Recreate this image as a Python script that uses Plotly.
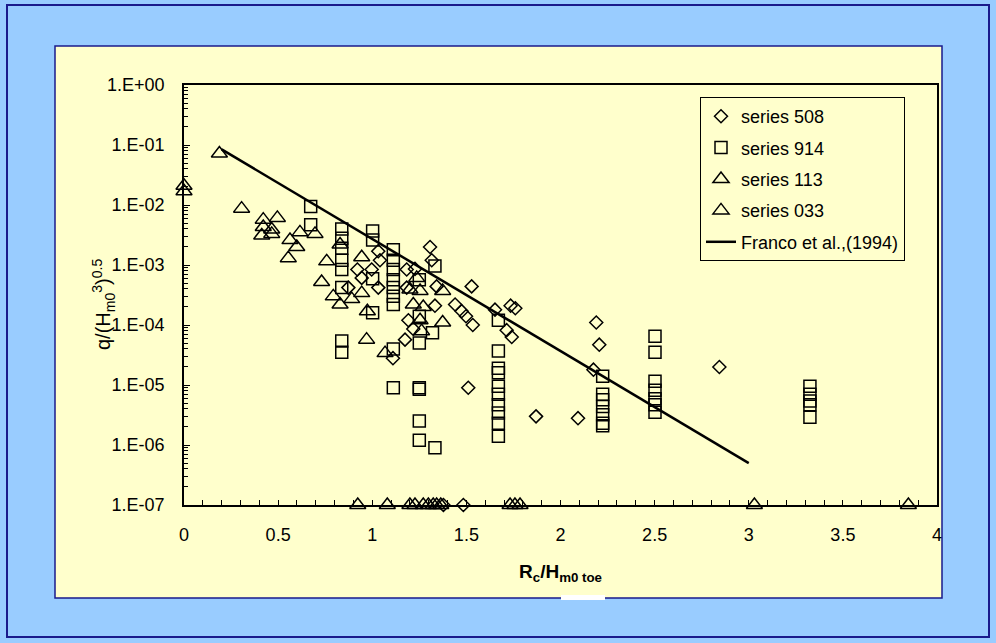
import plotly.graph_objects as go

# ---------------- data ----------------
s508_x = [0.873, 0.921, 0.944, 0.997, 1.032, 1.041, 1.032, 1.11, 1.174, 1.183, 1.183, 1.192,
          1.218, 1.227, 1.307, 1.316, 1.333, 1.342, 1.44, 1.475, 1.498, 1.51, 1.528, 1.534,
          1.652, 1.714, 1.735, 1.741, 1.76, 1.87, 2.093, 2.175, 2.19, 2.206, 2.844, 1.378, 1.484]
s508_y = [4.2e-4, 8.4e-4, 6.1e-4, 8.4e-4, 1.7e-3, 1.2e-3, 4.2e-4, 2.8e-5, 5.7e-5, 8.4e-4, 4.2e-4, 1.2e-4,
          8.6e-5, 8.6e-4, 2.0e-3, 1.2e-3, 2.1e-4, 4.4e-4, 2.2e-4, 1.7e-4, 1.4e-4, 9.0e-6, 4.4e-4, 1.0e-4,
          1.8e-4, 8.2e-5, 2.1e-4, 6.3e-5, 1.9e-4, 3.0e-6, 2.8e-6, 1.8e-5, 1.1e-4, 4.7e-5, 2.0e-5, 1e-7, 1e-7]

s914_x = [0.673, 0.673,
          0.838, 0.838, 0.838, 0.838, 0.838, 0.838, 0.838, 0.838,
          1.002, 1.002, 1.002, 1.002,
          1.112, 1.112, 1.112, 1.112, 1.112, 1.112, 1.112, 1.112, 1.112,
          1.25, 1.25, 1.25, 1.25, 1.25, 1.25, 1.25,
          1.32, 1.333, 1.333,
          1.67, 1.67, 1.67, 1.67, 1.67, 1.67, 1.67, 1.67, 1.67, 1.67,
          2.224, 2.224, 2.224, 2.224, 2.224, 2.224, 2.224,
          2.502, 2.502, 2.502, 2.502, 2.502, 2.502, 2.502,
          3.325, 3.325, 3.325, 3.325, 3.325]
s914_y = [9.4e-3, 4.7e-3,
          4.0e-3, 2.8e-3, 1.9e-3, 1.2e-3, 8.4e-4, 4.2e-4, 5.4e-5, 3.5e-5,
          3.7e-3, 2.6e-3, 5.9e-4, 1.6e-4,
          1.8e-3, 1.2e-3, 8.4e-4, 5.7e-4, 4.2e-4, 3.0e-4, 2.2e-4, 4.0e-5, 9.0e-6,
          5.7e-4, 1.4e-4, 5.0e-5, 9.0e-6, 8.5e-6, 2.5e-6, 1.2e-6,
          7.4e-5, 9.6e-4, 9.0e-7,
          1.2e-4, 3.7e-5, 1.9e-5, 1.6e-5, 9.5e-6, 7.0e-6, 4.7e-6, 3.4e-6, 2.3e-6, 1.4e-6,
          1.4e-5, 7.0e-6, 5.7e-6, 4.4e-6, 3.2e-6, 2.3e-6, 2.1e-6,
          6.5e-5, 3.5e-5, 1.16e-5, 8.2e-6, 5.9e-6, 4.7e-6, 3.5e-6,
          9.5e-6, 7.0e-6, 5.4e-6, 4.7e-6, 2.9e-6]

s113_x = [0.188, 0.306, 0.421, 0.496, 0.421, 0.466, 0.413, 0.466, 0.616, 0.696, 0.563, 0.599,
          0.554, 0.758, 0.731, 0.793, 0.829, 0.944, 0.944, 0.891, 0.829, 0.974, 0.97, 1.068,
          1.2, 1.236, 1.254, 1.218, 1.271, 1.254, 1.262, 1.374, 1.374]
s113_y = [0.072, 8.7e-3, 5.7e-3, 6.1e-3, 4.3e-3, 3.9e-3, 3.1e-3, 3.3e-3, 3.5e-3, 3.3e-3, 2.6e-3, 2.0e-3,
          1.3e-3, 1.15e-3, 5.2e-4, 3.0e-4, 2.2e-3, 1.35e-3, 3.4e-4, 2.7e-4, 2.2e-4, 1.7e-4, 5.7e-5, 3.4e-5,
          3.9e-4, 6.1e-4, 3.7e-4, 2.2e-4, 2.0e-4, 1.2e-4, 7.9e-5, 3.7e-4, 1.1e-4]

s033_x = [0.0, 0.0, 0.923, 1.08, 1.2, 1.227, 1.271, 1.298, 1.324, 1.342, 1.364,
          1.732, 1.758, 1.785, 3.03, 3.848]
s033_y = [0.021, 0.017, 1e-7, 1e-7, 1e-7, 1e-7, 1e-7, 1e-7, 1e-7, 1e-7, 1e-7,
          1e-7, 1e-7, 1e-7, 1e-7, 1e-7]

franco_x = [0.2, 3.0]
franco_y = [0.0846, 5.0e-7]

y_tickvals = [1e0, 1e-1, 1e-2, 1e-3, 1e-4, 1e-5, 1e-6, 1e-7]
y_ticktext = ["1.E+00", "1.E-01", "1.E-02", "1.E-03", "1.E-04", "1.E-05", "1.E-06", "1.E-07"]
x_tickvals = [0, 0.5, 1, 1.5, 2, 2.5, 3, 3.5, 4]
x_ticktext = ["0", "0.5", "1", "1.5", "2", "2.5", "3", "3.5", "4"]

# ---------------- layout geometry ----------------
W, H = 996, 643
L, R, T, B = 184, 937, 85, 505
PW, PH = R - L, B - T


def px(xp):
    return (xp - L) / PW


def py(yp):
    return (B - yp) / PH


FONT = "Liberation Sans, Arial, sans-serif"
YELLOW = "#FFFFCC"
BLUE = "#99CCFF"
NAVY = "#1A1A8C"

fig = go.Figure()

mk_line = dict(color="black", width=1.5)
fig.add_trace(go.Scatter(x=s508_x, y=s508_y, mode="markers", name="series 508",
                         legendgroup="a",
                         marker=dict(symbol="diamond-open", size=10, color="black", line=mk_line),
                         cliponaxis=False))
fig.add_trace(go.Scatter(x=s914_x, y=s914_y, mode="markers", name="series 914",
                         legendgroup="b",
                         marker=dict(symbol="square-open", size=12, color="black", line=mk_line),
                         cliponaxis=False))
fig.add_trace(go.Scatter(x=s113_x, y=s113_y, mode="markers", name="series 113",
                         legendgroup="c",
                         marker=dict(symbol="triangle-up-open", size=14, color="black", line=mk_line),
                         cliponaxis=False))
fig.add_trace(go.Scatter(x=s033_x, y=s033_y, mode="markers", name="series 033",
                         legendgroup="d",
                         marker=dict(symbol="triangle-up-open", size=14, color="black", line=mk_line),
                         cliponaxis=False))
fig.add_trace(go.Scatter(x=franco_x, y=franco_y, mode="lines", name="Franco et al.,(1994)",
                         legendgroup="e",
                         line=dict(color="black", width=2.5)))

shapes = [
    # outer frame
    dict(type="rect", xref="paper", yref="paper", x0=px(7), x1=px(989), y0=py(637), y1=py(5),
         line=dict(color=NAVY, width=2), fillcolor="rgba(0,0,0,0)", layer="below"),
    # yellow chart area
    dict(type="rect", xref="paper", yref="paper", x0=px(55), x1=px(942), y0=py(598), y1=py(46),
         line=dict(color=NAVY, width=1.5), fillcolor=YELLOW, layer="below"),
    # small white patch on bottom edge
    dict(type="rect", xref="paper", yref="paper", x0=px(561), x1=px(605), y0=py(600), y1=py(595),
         line=dict(width=0), fillcolor="white", layer="below"),
]

annotations = [
    dict(text="q/(H<sub>m0</sub><sup>3</sup>)<sup>0.5</sup>", xref="paper", yref="paper",
         x=px(103), y=py(305), textangle=-90, showarrow=False,
         font=dict(family=FONT, size=20, color="black"), xanchor="center", yanchor="middle"),
    dict(text="<b>R<sub>c</sub>/H<sub>m0 toe</sub></b>", xref="paper", yref="paper",
         x=px(560), y=py(573), showarrow=False,
         font=dict(family=FONT, size=19, color="black"), xanchor="center", yanchor="middle"),
]

fig.update_layout(
    width=W, height=H,
    margin=dict(l=L, r=W - R, t=T, b=H - B, pad=0),
    paper_bgcolor=BLUE,
    plot_bgcolor=YELLOW,
    font=dict(family=FONT, size=18, color="black"),
    shapes=shapes,
    annotations=annotations,
    showlegend=True,
    legend=dict(x=px(905), y=py(97), xanchor="right", yanchor="top",
                bgcolor=YELLOW, bordercolor="black", borderwidth=1,
                font=dict(family=FONT, size=18, color="black"),
                tracegroupgap=5, traceorder="grouped"),
)

fig.update_xaxes(
    range=[0, 4], showgrid=False, zeroline=False,
    showline=True, linecolor="black", linewidth=1.5, mirror=True,
    tickmode="array", tickvals=x_tickvals, ticktext=x_ticktext,
    ticks="inside", ticklen=5, tickcolor="black", tickwidth=1,
    ticklabelstandoff=13,
    minor=dict(ticks="inside", ticklen=5, dtick=0.1, tickcolor="black", showgrid=False),
    tickfont=dict(family=FONT, size=18, color="black"),
)
fig.update_yaxes(
    type="log", range=[-7, 0], showgrid=False, zeroline=False,
    showline=True, linecolor="black", linewidth=1.5, mirror=True,
    tickmode="array", tickvals=y_tickvals, ticktext=y_ticktext,
    ticks="inside", ticklen=6, tickcolor="black", tickwidth=1,
    ticklabelstandoff=14,
    minor=dict(ticks="inside", ticklen=4, dtick="D1", tickcolor="black", showgrid=False),
    tickfont=dict(family=FONT, size=18, color="black"),
)

fig.write_html("out.html",
               config={"displayModeBar": False},
               post_script="document.body.style.margin='0px';document.body.style.padding='0px';")
